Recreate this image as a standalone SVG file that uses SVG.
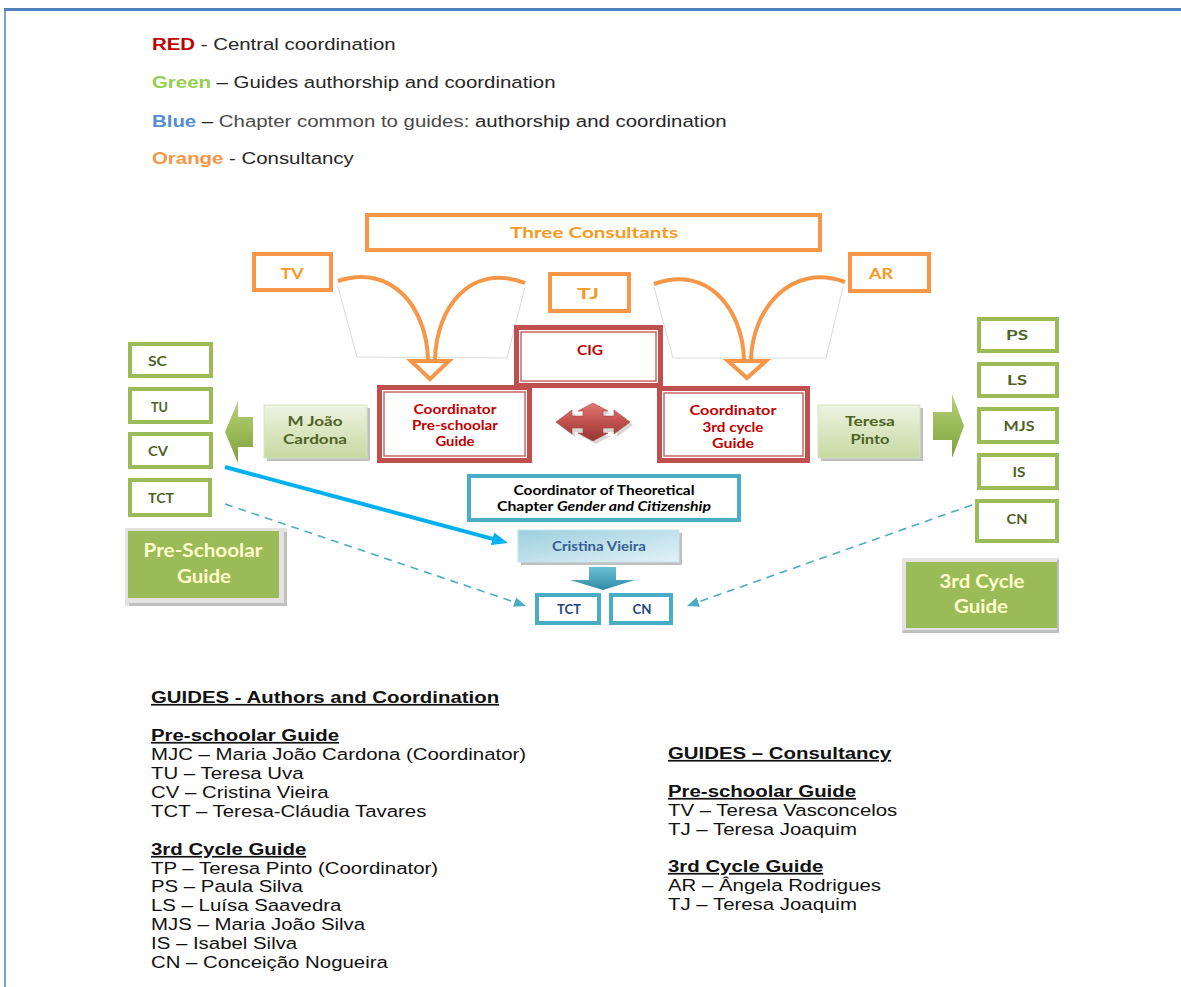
<svg xmlns="http://www.w3.org/2000/svg" width="1181" height="987" viewBox="0 0 1181 987">
<defs>
<style>
.lg{font-family:'Liberation Sans',Arial,sans-serif;font-size:17px;fill:#262626}
.bt{font-family:'Liberation Sans',Arial,sans-serif;font-size:17px;fill:#111}
.hd{font-weight:bold;text-decoration:underline}
.lb{font-family:Lato,'Open Sans',sans-serif;font-weight:bold;text-anchor:middle}
.ls{font-family:Lato,'Open Sans',sans-serif;font-weight:bold}
.or{fill:#f79a1e;font-size:16px}
.ob{fill:#fff;stroke:#f79646;stroke-width:4}
.rd{fill:#c00000;font-size:14px}
.gb{fill:#fff;stroke:#9bbb59;stroke-width:4}
.gt{fill:#4f6228;font-size:14px}
.bb{fill:#fff;stroke:#4bacc6;stroke-width:4}
.bt2{fill:#1f497d;font-size:13px}
.arc{fill:none;stroke:#f79646;stroke-width:4}
.ahd{fill:#fff;stroke:#f79646;stroke-width:4;stroke-linejoin:miter}
.faint{fill:none;stroke:#dadada;stroke-width:1}
.guide{fill:#ffffcc;font-size:18px}
.shadow{fill:#bfbfbf}
.dash{fill:none;stroke:#4bacc6;stroke-width:1.6;stroke-dasharray:8 6}
</style>
<linearGradient id="gGreen" x1="0" y1="0" x2="0" y2="1">
<stop offset="0" stop-color="#eef3e2"/><stop offset="1" stop-color="#c6d9a0"/>
</linearGradient>
<linearGradient id="gGArrow" x1="0" y1="0" x2="0" y2="1">
<stop offset="0" stop-color="#b5cf7c"/><stop offset="0.5" stop-color="#9bbb59"/><stop offset="1" stop-color="#7e9c3f"/>
</linearGradient>
<linearGradient id="gBlue" x1="0" y1="0" x2="1" y2="1">
<stop offset="0" stop-color="#9ccfdf"/><stop offset="1" stop-color="#e3f2f7"/>
</linearGradient>
<linearGradient id="gBArrow" x1="0" y1="0" x2="0" y2="1">
<stop offset="0" stop-color="#6cc0d6"/><stop offset="1" stop-color="#2f8ba4"/>
</linearGradient>
<linearGradient id="gRed" x1="0" y1="0" x2="0" y2="1">
<stop offset="0" stop-color="#e07a77"/><stop offset="0.5" stop-color="#c0504d"/><stop offset="1" stop-color="#943634"/>
</linearGradient>
<marker id="mSolid" markerUnits="userSpaceOnUse" markerWidth="18" markerHeight="14" refX="6" refY="6.5" orient="auto">
<path d="M0,0 L16,6.5 L0,13 z" fill="#00b0f0"/>
</marker>
<marker id="mDash" markerUnits="userSpaceOnUse" markerWidth="14" markerHeight="12" refX="4" refY="5" orient="auto">
<path d="M0,0 L12,5 L0,10 z" fill="#4bacc6"/>
</marker>
</defs>

<rect x="0" y="0" width="1181" height="987" fill="#fff"/>
<!-- page border -->
<line x1="4" y1="9.5" x2="1181" y2="9.5" stroke="#4f81bd" stroke-width="3"/>
<line x1="5" y1="9" x2="5" y2="987" stroke="#4f81bd" stroke-width="1.5"/>

<!-- legend -->
<g id="legend" transform="translate(152 0) scale(1.2 1)">
<text class="lg" x="0" y="50"><tspan font-weight="bold" fill="#c00000">RED</tspan> - Central coordination</text>
<text class="lg" x="0" y="88"><tspan font-weight="bold" fill="#92d050">Green</tspan> – Guides authorship and coordination</text>
<text class="lg" x="0" y="127"><tspan font-weight="bold" fill="#558ed5">Blue</tspan> – <tspan fill="#4a4a4a">Chapter common to guides:</tspan> authorship and coordination</text>
<text class="lg" x="0" y="164"><tspan font-weight="bold" fill="#f79646">Orange</tspan> - Consultancy</text>
</g>

<!-- connectors -->
<g id="connectors">
<path class="faint" d="M338,287 L357,357 L507,358 L525,287"/>
<path class="faint" d="M654,287 L673,358 L826,358 L843,287"/>
<path class="arc" d="M338,281 C392,263 427,308 428,360"/>
<path class="arc" d="M525,283 C470,262 436,308 435,360"/>
<polygon class="ahd" points="411,361 449,361 430,379"/>
<path class="arc" d="M654,284 C708,264 743,310 744,360"/>
<path class="arc" d="M845,282 C790,262 752,310 751,360"/>
<polygon class="ahd" points="728,361 766,361 747,378"/>

<!-- red 4-way arrow -->
<polygon points="596,406 611,414 606,414 606,418 617,418 617,413 633,425 617,437 617,432 606,432 606,436 611,436 596,444 581,436 586,436 586,432 575,432 575,437 559,425 575,413 575,418 586,418 586,414 581,414" fill="#8c8c8c" opacity="0.35"/>
<polygon points="593,403 608,411 603,411 603,416 614,416 614,410 630,422 614,434 614,428 603,428 603,433 608,433 593,441 578,433 583,433 583,428 572,428 572,434 556,422 572,410 572,416 583,416 583,411 578,411" fill="url(#gRed)" stroke="#a94442" stroke-width="0.6"/>

<!-- green block arrows -->
<polygon points="225,432 238,401 238,417 253,417 253,447 238,447 238,463" fill="url(#gGArrow)"/>
<polygon points="933,412 952,412 952,394 964,426 952,458 952,440 933,440" fill="url(#gGArrow)"/>

<!-- blue down arrow -->
<polygon points="589,567 616,567 616,580 635,580 603,590 570,580 589,580" fill="url(#gBArrow)"/>

<!-- lines -->
<line x1="225" y1="467" x2="498.3" y2="540.4" stroke="#00b0f0" stroke-width="4" marker-end="url(#mSolid)"/>
<line class="dash" x1="225" y1="504" x2="518.4" y2="603.4" marker-end="url(#mDash)"/>
<line class="dash" x1="972" y1="505" x2="694.5" y2="603.3" marker-end="url(#mDash)"/>
</g>

<!-- orange consultants -->
<g id="three-consultants">
<rect class="ob" x="367" y="215" width="453" height="35"/>
<text class="lb or" x="594" y="238" textLength="168" lengthAdjust="spacingAndGlyphs">Three Consultants</text>
</g>
<g id="tv">
<rect class="ob" x="254" y="254" width="77" height="36"/>
<text class="lb or" x="292" y="279" textLength="23" lengthAdjust="spacingAndGlyphs">TV</text>
</g>
<g id="tj">
<rect class="ob" x="550" y="274" width="79" height="37"/>
<text class="lb or" x="588" y="299" textLength="22" lengthAdjust="spacingAndGlyphs">TJ</text>
</g>
<g id="ar">
<rect class="ob" x="850" y="254" width="79" height="37"/>
<text class="lb or" x="881" y="279" textLength="24" lengthAdjust="spacingAndGlyphs">AR</text>
</g>

<!-- red boxes -->
<g id="coord-pre">
<rect x="377" y="385" width="155" height="78" fill="#c0504d"/>
<rect x="382" y="390" width="145" height="68" fill="#fff"/>
<rect x="384" y="392" width="141" height="64" fill="none" stroke="#c0504d" stroke-width="1.3"/>
<text class="lb rd" x="455" y="414" textLength="83" lengthAdjust="spacingAndGlyphs">Coordinator</text>
<text class="lb rd" x="455" y="430" textLength="86" lengthAdjust="spacingAndGlyphs">Pre-schoolar</text>
<text class="lb rd" x="455" y="446" textLength="39" lengthAdjust="spacingAndGlyphs">Guide</text>
</g>
<g id="coord-3rd">
<rect x="657" y="386" width="153" height="77" fill="#c0504d"/>
<rect x="662" y="391" width="143" height="67" fill="#fff"/>
<rect x="664" y="393" width="139" height="63" fill="none" stroke="#c0504d" stroke-width="1.3"/>
<text class="lb rd" x="733" y="415" textLength="87" lengthAdjust="spacingAndGlyphs">Coordinator</text>
<text class="lb rd" x="733" y="432" textLength="61" lengthAdjust="spacingAndGlyphs">3rd cycle</text>
<text class="lb rd" x="733" y="448" textLength="42" lengthAdjust="spacingAndGlyphs">Guide</text>
</g>
<g id="cig">
<rect x="514" y="325" width="149" height="63" fill="#c0504d"/>
<rect x="519" y="330" width="139" height="53" fill="#fff"/>
<rect x="521" y="332" width="135" height="49" fill="none" stroke="#c0504d" stroke-width="1.3"/>
<text class="lb rd" x="590" y="355" textLength="26" lengthAdjust="spacingAndGlyphs">CIG</text>
</g>

<!-- green left -->
<g id="sc"><rect class="gb" x="130" y="344" width="81" height="32"/><text class="ls gt" x="148" y="366" textLength="19" lengthAdjust="spacingAndGlyphs">SC</text></g>
<g id="tu"><rect class="gb" x="130" y="389" width="81" height="33"/><text class="ls gt" x="151" y="412" textLength="17" lengthAdjust="spacingAndGlyphs">TU</text></g>
<g id="cv"><rect class="gb" x="130" y="434" width="81" height="33"/><text class="ls gt" x="148" y="456" textLength="20" lengthAdjust="spacingAndGlyphs">CV</text></g>
<g id="tct-left"><rect class="gb" x="130" y="480" width="80" height="35"/><text class="ls gt" x="148" y="503" textLength="26" lengthAdjust="spacingAndGlyphs">TCT</text></g>

<g id="pre-schoolar-guide">
<rect x="125" y="528" width="162" height="78" fill="#e3e3e3"/>
<rect x="129" y="603" width="158" height="3" fill="#bfbfbf"/>
<rect x="284" y="532" width="3" height="74" fill="#bfbfbf"/>
<rect x="128" y="531" width="151" height="67" fill="#9bbb59"/>
<text class="lb guide" x="203" y="557" textLength="119" lengthAdjust="spacingAndGlyphs">Pre-Schoolar</text>
<text class="lb guide" x="204" y="583" textLength="54" lengthAdjust="spacingAndGlyphs">Guide</text>
</g>

<g id="m-joao-cardona">
<rect class="shadow" x="267" y="408" width="103" height="53"/>
<rect x="264" y="405" width="103" height="53" fill="url(#gGreen)" stroke="#d7e4bd" stroke-width="1"/>
<text class="lb gt" x="315" y="426" textLength="55" lengthAdjust="spacingAndGlyphs">M João</text>
<text class="lb gt" x="315" y="444" textLength="64" lengthAdjust="spacingAndGlyphs">Cardona</text>
</g>

<!-- green right -->
<g id="teresa-pinto">
<rect class="shadow" x="821" y="408" width="102" height="53"/>
<rect x="818" y="405" width="102" height="53" fill="url(#gGreen)" stroke="#d7e4bd" stroke-width="1"/>
<text class="lb gt" x="870" y="426" textLength="50" lengthAdjust="spacingAndGlyphs">Teresa</text>
<text class="lb gt" x="870" y="444" textLength="39" lengthAdjust="spacingAndGlyphs">Pinto</text>
</g>
<g id="ps"><rect class="gb" x="979" y="319" width="78" height="32"/><text class="lb gt" x="1017" y="340" textLength="22" lengthAdjust="spacingAndGlyphs">PS</text></g>
<g id="ls"><rect class="gb" x="979" y="364" width="78" height="32"/><text class="lb gt" x="1017" y="385" textLength="20" lengthAdjust="spacingAndGlyphs">LS</text></g>
<g id="mjs"><rect class="gb" x="979" y="409" width="78" height="33"/><text class="lb gt" x="1019" y="431" textLength="31" lengthAdjust="spacingAndGlyphs">MJS</text></g>
<g id="is"><rect class="gb" x="979" y="455" width="78" height="33"/><text class="lb gt" x="1019" y="477" textLength="13" lengthAdjust="spacingAndGlyphs">IS</text></g>
<g id="cn-right"><rect class="gb" x="977" y="501" width="80" height="40"/><text class="lb gt" x="1017" y="524" textLength="21" lengthAdjust="spacingAndGlyphs">CN</text></g>

<g id="third-cycle-guide">
<rect x="902" y="558" width="157" height="75" fill="#e3e3e3"/>
<rect x="903" y="630" width="156" height="3" fill="#bfbfbf"/>
<rect x="1057" y="560" width="2" height="73" fill="#bfbfbf"/>
<rect x="906" y="562" width="151" height="66" fill="#9bbb59"/>
<text class="lb guide" x="982" y="588" textLength="85" lengthAdjust="spacingAndGlyphs">3rd Cycle</text>
<text class="lb guide" x="981" y="613" textLength="54" lengthAdjust="spacingAndGlyphs">Guide</text>
</g>

<!-- blue -->
<g id="coord-theoretical">
<rect class="bb" x="469" y="476" width="270" height="44"/>
<text class="lb" x="604" y="495" font-size="13" fill="#000" textLength="181" lengthAdjust="spacingAndGlyphs">Coordinator of Theoretical</text>
<text class="lb" x="604" y="511" font-size="13" fill="#000" textLength="214" lengthAdjust="spacingAndGlyphs">Chapter <tspan font-style="italic">Gender and Citizenship</tspan></text>
</g>
<g id="cristina-vieira">
<rect class="shadow" x="521" y="533" width="161" height="32"/>
<rect x="518" y="530" width="161" height="32" fill="url(#gBlue)" stroke="#c6e4ee" stroke-width="1"/>
<text class="lb" x="599" y="551" font-size="13" fill="#366092" textLength="94" lengthAdjust="spacingAndGlyphs">Cristina Vieira</text>
</g>
<g id="tct-blue"><rect class="bb" x="537" y="595" width="62" height="28"/><text class="lb bt2" x="569" y="614" textLength="24" lengthAdjust="spacingAndGlyphs">TCT</text></g>
<g id="cn-blue"><rect class="bb" x="611" y="595" width="60" height="28"/><text class="lb bt2" x="642" y="614" textLength="19" lengthAdjust="spacingAndGlyphs">CN</text></g>

<!-- bottom text -->
<g id="authors-text" transform="translate(151 0) scale(1.2 1)">
<text class="bt hd" x="0" y="703">GUIDES - Authors and Coordination</text>
<text class="bt hd" x="0" y="741">Pre-schoolar Guide</text>
<text class="bt" x="0" y="760">MJC – Maria João Cardona (Coordinator)</text>
<text class="bt" x="0" y="779">TU – Teresa Uva</text>
<text class="bt" x="0" y="798">CV – Cristina Vieira</text>
<text class="bt" x="0" y="817">TCT – Teresa-Cláudia Tavares</text>
<text class="bt hd" x="0" y="855">3rd Cycle Guide</text>
<text class="bt" x="0" y="874">TP – Teresa Pinto (Coordinator)</text>
<text class="bt" x="0" y="892">PS – Paula Silva</text>
<text class="bt" x="0" y="911">LS – Luísa Saavedra</text>
<text class="bt" x="0" y="930">MJS – Maria João Silva</text>
<text class="bt" x="0" y="949">IS – Isabel Silva</text>
<text class="bt" x="0" y="968">CN – Conceição Nogueira</text>
</g>
<g id="consultancy-text" transform="translate(668 0) scale(1.2 1)">
<text class="bt hd" x="0" y="759">GUIDES – Consultancy</text>
<text class="bt hd" x="0" y="797">Pre-schoolar Guide</text>
<text class="bt" x="0" y="816">TV – Teresa Vasconcelos</text>
<text class="bt" x="0" y="835">TJ – Teresa Joaquim</text>
<text class="bt hd" x="0" y="872">3rd Cycle Guide</text>
<text class="bt" x="0" y="891">AR – Ângela Rodrigues</text>
<text class="bt" x="0" y="910">TJ – Teresa Joaquim</text>
</g>
</svg>
